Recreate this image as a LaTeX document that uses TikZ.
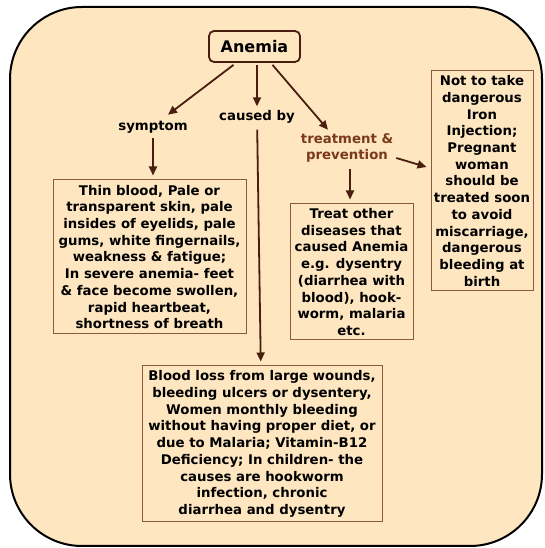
\documentclass[tikz,border=0pt]{standalone}
\usepackage{fontspec}
\setmainfont{DejaVu Sans}
\usetikzlibrary{arrows.meta,positioning}
\definecolor{paper}{HTML}{FDE6C0}
\definecolor{edge}{HTML}{4A1E0E}
\definecolor{frame}{HTML}{8A5A3A}
\definecolor{inkbrown}{HTML}{7A3A1A}

\begin{document}
\begin{tikzpicture}[
  x=1pt, y=1pt,
  box/.style={draw=frame, line width=1pt, align=center, inner sep=0pt,
              font=\bfseries\fontsize{13.3}{16.7}\selectfont},
  lbl/.style={align=center, inner sep=1pt,
              font=\bfseries\fontsize{13.3}{15.5}\selectfont},
  arr/.style={-{Triangle[length=9pt,width=8pt]}, line width=1.8pt, draw=edge}
]
\useasboundingbox (0,0) rectangle (544,548);
\draw[fill=paper, line width=2pt, rounded corners=72pt] (10,2) rectangle (542,541);

\node[draw=edge, line width=1.8pt, rounded corners=5pt,
      minimum width=91pt, minimum height=31pt,
      font=\bfseries\fontsize{16}{18}\selectfont] (anemia) at (254.5,501.5) {Anemia};

\node[lbl] (symptom)  at (153,421) {symptom};
\node[lbl] (causedby) at (257,431) {caused by};
\node[lbl, text=inkbrown] (treat) at (347,400) {treatment \&\\prevention};

\node[box, minimum width=193pt, minimum height=154pt] (symbox) at (149.5,291)
  {Thin blood, Pale or\\transparent skin, pale\\insides of eyelids, pale\\gums, white fingernails,\\weakness \& fatigue;\\In severe anemia- feet\\\& face become swollen,\\rapid heartbeat,\\shortness of breath};
\node[box, minimum width=240pt, minimum height=156pt] (causebox) at (262,104)
  {Blood loss from large wounds,\\bleeding ulcers or dysentery,\\Women monthly bleeding\\without having proper diet, or\\due to Malaria; Vitamin-B12\\Deficiency; In children- the\\causes are hookworm\\infection, chronic\\diarrhea and dysentry};
\node[box, minimum width=123pt, minimum height=136pt] (treatbox) at (351.5,276)
  {Treat other\\diseases that\\caused Anemia\\e.g. dysentry\\(diarrhea with\\blood), hook-\\worm, malaria\\etc.};
\node[box, minimum width=102pt, minimum height=220pt] (notbox) at (482,367)
  {Not to take\\dangerous\\Iron\\Injection;\\Pregnant\\woman\\should be\\treated soon\\to avoid\\miscarriage,\\dangerous\\bleeding at\\birth};

% links
\draw[arr] ([xshift=-21pt,yshift=-2pt]anemia.south) -- ([xshift=15pt,yshift=5pt]symptom.north);
\draw[arr, shorten <=2pt, shorten >=3pt] (anemia.south -| causedby) -- (causedby);
\draw[arr] ([xshift=18pt,yshift=-2pt]anemia.south) -- ([xshift=-19pt,yshift=3pt]treat.north);
\draw[arr, shorten <=4pt, shorten >=4pt] (symptom.south) -- (symptom.south |- symbox.north);
\draw[arr, shorten <=5pt, shorten >=4pt] (causedby) -- (causebox);
\draw[arr, shorten <=6pt, shorten >=4pt] ([xshift=3pt]treat.south) -- ([xshift=3pt]treat.south |- treatbox.north);
\draw[arr] ([xshift=2pt,yshift=-10pt]treat.east) -- ([xshift=-4pt,yshift=14pt]notbox.west);
\end{tikzpicture}
\end{document}
